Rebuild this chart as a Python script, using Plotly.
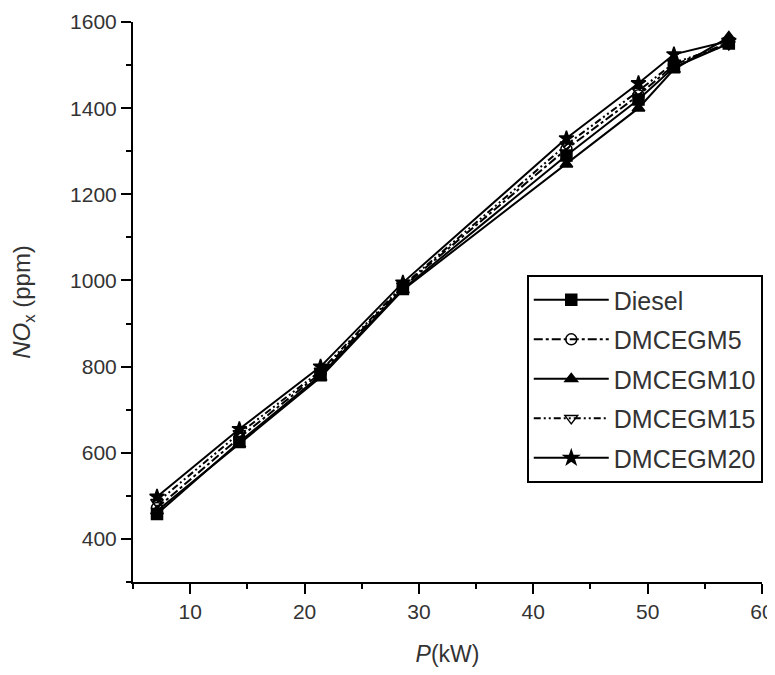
import plotly.graph_objects as go

power_kw = [7.1, 14.3, 21.4, 28.6, 42.9, 49.2, 52.3, 57.1]
diesel = [458, 625, 780, 980, 1290, 1420, 1495, 1550]
dmcegm5 = [472, 635, 785, 985, 1305, 1430, 1500, 1553]
dmcegm10 = [465, 620, 775, 978, 1270, 1400, 1490, 1565]
dmcegm15 = [485, 645, 790, 988, 1315, 1440, 1505, 1548]
dmcegm20 = [498, 655, 800, 995, 1330, 1458, 1525, 1556]

series = [
    ("Diesel", diesel, "solid", "square", "black"),
    ("DMCEGM5", dmcegm5, "dashdot", "circle-open", "black"),
    ("DMCEGM10", dmcegm10, "solid", "triangle-up", "black"),
    ("DMCEGM15", dmcegm15, "7px,3px,2px,3px,2px,3px", "triangle-down-open", "black"),
    ("DMCEGM20", dmcegm20, "solid", "star", "black"),
]

fig = go.Figure()
for i, (name, vals, dash, sym, col) in enumerate(series):
    fig.add_trace(go.Scatter(
        x=power_kw, y=vals, name=name, mode="lines+markers",
        line=dict(color=col, width=2, dash=dash),
        marker=dict(symbol=sym, size=11, color=col, line=dict(color=col, width=1.5)),
        legendgroup=f"g{i}",
    ))

font_family = "Liberation Sans, Arial, sans-serif"
fig.update_layout(
    width=767, height=667,
    margin=dict(l=125, r=13, t=14, b=93, autoexpand=False),
    paper_bgcolor="white", plot_bgcolor="white",
    font=dict(family=font_family, color="#333333", size=18),
    xaxis=dict(
        range=[5, 60], dtick=10, tick0=0, showgrid=False, zeroline=False,
        showline=True, linecolor="black", linewidth=2,
        ticks="outside", ticklen=10, tickwidth=1.5, tickcolor="black",
        minor=dict(dtick=5, ticks="outside", ticklen=5, tickwidth=1.5, tickcolor="black"),
        tickfont=dict(size=21, color="#333333"),
        title=dict(text="<i>P</i>(kW)", font=dict(size=23, color="#333333"), standoff=24),
        automargin=False,
    ),
    yaxis=dict(
        range=[300, 1600], dtick=200, tick0=0, showgrid=False, zeroline=False,
        showline=True, linecolor="black", linewidth=2,
        ticks="outside", ticklen=10, tickwidth=1.5, tickcolor="black",
        minor=dict(dtick=100, ticks="outside", ticklen=5, tickwidth=1.5, tickcolor="black"),
        tickfont=dict(size=21, color="#333333"),
        title=dict(text="<i>NO</i><sub>x</sub> (ppm)", font=dict(size=24, color="#333333"), standoff=36),
        automargin=False,
    ),
    legend=dict(
        x=0.626, y=0.548, xanchor="left", yanchor="top",
        bordercolor="black", borderwidth=2, bgcolor="white",
        font=dict(size=25, color="#333333"),
        tracegroupgap=4, itemwidth=75,
    ),
    showlegend=True,
)

fig.write_html("out.html")
